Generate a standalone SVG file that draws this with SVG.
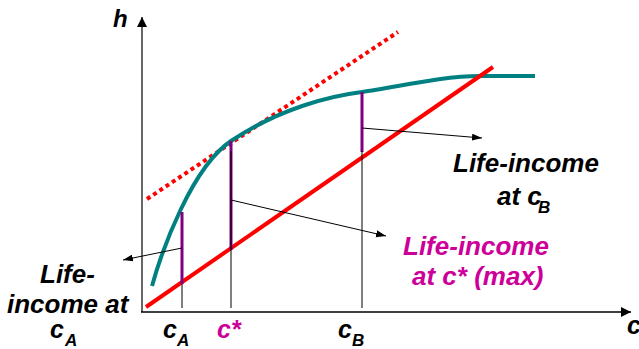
<svg xmlns="http://www.w3.org/2000/svg" width="639" height="349" viewBox="0 0 639 349">
<defs>
<marker id="ah" markerUnits="userSpaceOnUse" markerWidth="11" markerHeight="8" refX="10" refY="3.5" orient="auto"><path d="M0,0 L10,3.5 L0,7 z" fill="#000"/></marker>
<marker id="ax" markerUnits="userSpaceOnUse" markerWidth="13" markerHeight="13" refX="10" refY="5" orient="auto"><path d="M0,0 L10,5 L0,10 z" fill="#000"/></marker>
<style>
text{font-family:"Liberation Sans",Arial,sans-serif;font-weight:bold;font-style:italic;}
.blk{fill:#000;}
.mag{fill:#CC0099;}
.thin{stroke:#000;stroke-width:1;fill:none;}
.pur{stroke:#800080;stroke-width:3;fill:none;}
.arr{stroke:#000;stroke-width:1;fill:none;marker-end:url(#ah);}
</style>
</defs>
<rect width="639" height="349" fill="#fff"/>
<g id="axes">
<line x1="142" y1="312" x2="142" y2="17" stroke="#333" stroke-width="1.5" marker-end="url(#ax)"/>
<line x1="141" y1="312" x2="631" y2="312" stroke="#000" stroke-width="1.5" marker-end="url(#ax)"/>
<text x="113" y="27" font-size="24" class="blk">h</text>
<text x="627" y="334" font-size="25" class="blk">c</text>
</g>
<g id="tangent">
<line x1="147" y1="199" x2="398" y2="32" stroke="#FF0000" stroke-width="4" stroke-dasharray="4 3.5"/>
</g>
<g id="curve">
<path d="M152,286 C162,250 192,167 231,141 C280,108.3 330,96 362,92 C394,88 440,76 480,76 L535,76" stroke="#008080" stroke-width="4" fill="none"/>
</g>
<g id="line45">
<line x1="146" y1="307" x2="493" y2="67" stroke="#FF0000" stroke-width="4"/>
</g>
<g id="connectors">
<line class="pur" x1="182" y1="212" x2="182" y2="284"/>
<line class="pur" x1="231" y1="141" x2="231" y2="250"/>
<line class="pur" x1="362" y1="92" x2="362" y2="152"/>
<line class="thin" x1="182" y1="284" x2="182" y2="308"/>
<line class="thin" x1="231" y1="151" x2="231" y2="308"/>
<line class="thin" x1="362" y1="151" x2="362" y2="308"/>
<line class="arr" x1="182" y1="248" x2="123" y2="260"/>
<line class="arr" x1="231" y1="200" x2="386" y2="236"/>
<line class="arr" x1="362" y1="128" x2="482" y2="138"/>
</g>
<g id="label-cA">
<text x="40" y="283" font-size="26" class="blk">Life-</text>
<text x="7" y="313" font-size="26" class="blk">income at</text>
<text x="50" y="338" font-size="25" class="blk">c</text>
<text x="65" y="346" font-size="17" class="blk">A</text>
</g>
<g id="label-cB">
<text x="453" y="172" font-size="26" class="blk">Life-income</text>
<text x="497" y="205" font-size="26" class="blk">at c</text>
<text x="538" y="213" font-size="17" class="blk">B</text>
</g>
<g id="label-cstar">
<text x="403" y="255" font-size="26" class="mag">Life-income</text>
<text x="412" y="285" font-size="26" class="mag">at c* (max)</text>
</g>
<g id="ticks">
<text x="163" y="338" font-size="25" class="blk">c</text>
<text x="177" y="346" font-size="17" class="blk">A</text>
<text x="217" y="338" font-size="25" class="mag">c*</text>
<text x="338" y="338" font-size="25" class="blk">c</text>
<text x="352" y="346" font-size="17" class="blk">B</text>
</g>
</svg>
